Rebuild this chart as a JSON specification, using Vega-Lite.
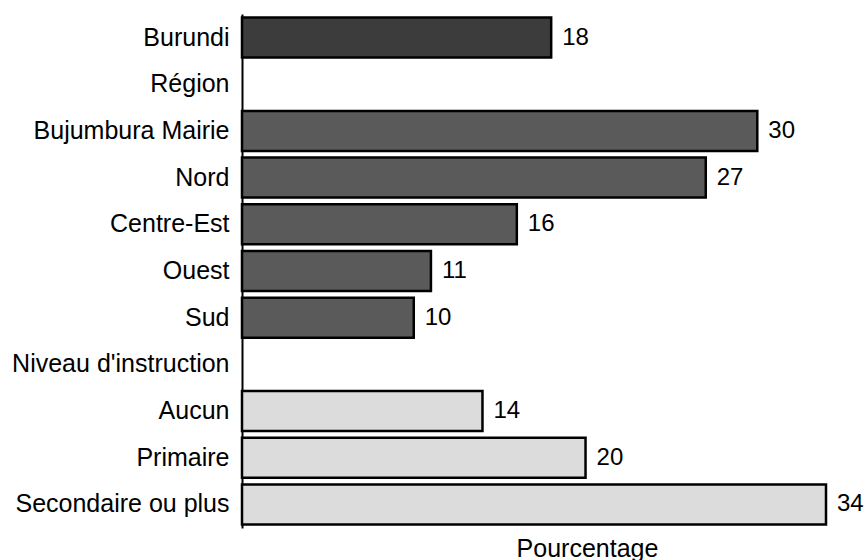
{
  "$schema": "https://vega.github.io/schema/vega-lite/v6.json",
  "autosize": {"type": "none"},
  "width": 584,
  "height": 514,
  "padding": {"left": 242, "top": 14, "right": 39, "bottom": 32},
  "background": "white",
  "config": {
    "view": {"stroke": null},
    "font": "Liberation Sans",
    "axis": {"labelFont": "Liberation Sans", "titleFont": "Liberation Sans", "grid": false}
  },
  "data": {
    "values": [
      {"cat": "Burundi", "value": 18, "group": "total"},
      {"cat": "Région", "value": null, "group": "none"},
      {"cat": "Bujumbura Mairie", "value": 30, "group": "region"},
      {"cat": "Nord", "value": 27, "group": "region"},
      {"cat": "Centre-Est", "value": 16, "group": "region"},
      {"cat": "Ouest", "value": 11, "group": "region"},
      {"cat": "Sud", "value": 10, "group": "region"},
      {"cat": "Niveau d'instruction", "value": null, "group": "none"},
      {"cat": "Aucun", "value": 14, "group": "edu"},
      {"cat": "Primaire", "value": 20, "group": "edu"},
      {"cat": "Secondaire ou plus", "value": 34, "group": "edu"}
    ]
  },
  "encoding": {
    "y": {
      "field": "cat",
      "type": "nominal",
      "sort": null,
      "scale": {
        "domain": ["Burundi", "Région", "Bujumbura Mairie", "Nord", "Centre-Est", "Ouest", "Sud", "Niveau d'instruction", "Aucun", "Primaire", "Secondaire ou plus"],
        "paddingInner": 0.143,
        "paddingOuter": 0.075
      },
      "axis": {
        "title": null,
        "labelFontSize": 25,
        "labelColor": "black",
        "labelPadding": 13,
        "ticks": false,
        "domainColor": "black",
        "domainWidth": 2,
        "labelLimit": 400
      }
    },
    "x": {
      "field": "value",
      "type": "quantitative",
      "scale": {"domain": [0, 34], "nice": false, "zero": true},
      "axis": {
        "title": "Pourcentage",
        "domain": false,
        "ticks": false,
        "labels": false,
        "titleFontSize": 25,
        "titleFontWeight": "normal",
        "titleColor": "black",
        "titleX": 345,
        "titleY": 28,
        "titleBaseline": "alphabetic",
        "titleAlign": "center"
      }
    }
  },
  "layer": [
    {
      "mark": {"type": "bar", "stroke": "black", "strokeWidth": 2.5},
      "encoding": {
        "color": {
          "field": "group",
          "type": "nominal",
          "scale": {"domain": ["total", "region", "edu", "none"], "range": ["#3c3c3c", "#5a5a5a", "#dcdcdc", "white"]},
          "legend": null
        }
      }
    },
    {
      "transform": [{"filter": "datum.value != null"}],
      "mark": {"type": "text", "align": "left", "dx": 11, "fontSize": 24, "color": "black", "baseline": "middle"},
      "encoding": {"text": {"field": "value", "type": "quantitative"}}
    }
  ]
}
